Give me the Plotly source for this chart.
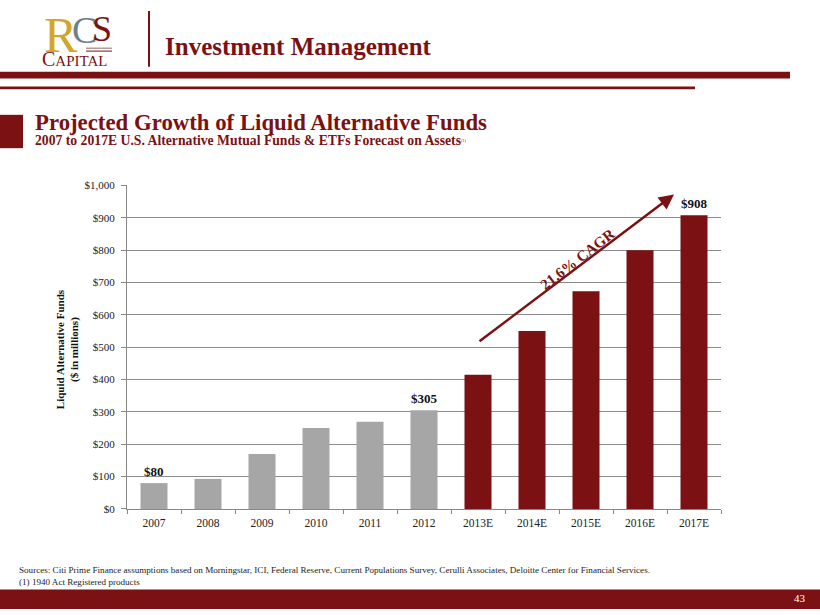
import plotly.graph_objects as go

years = ["2007", "2008", "2009", "2010", "2011", "2012",
         "2013E", "2014E", "2015E", "2016E", "2017E"]
assets = [80, 93, 170, 250, 270, 305, 415, 550, 673, 800, 908]
is_forecast = [False] * 6 + [True] * 5
label_years = ["2007", "2012", "2017E"]
y_ticks = [0, 100, 200, 300, 400, 500, 600, 700, 800, 900, 1000]
y_tick_text = ["$0", "$100", "$200", "$300", "$400", "$500", "$600", "$700", "$800", "$900", "$1,000"]

W, H = 820, 615
RED = "#7B1113"
GRAY = "#A6A6A6"
SERIF = "Liberation Serif, Times New Roman, serif"


def px(x):
    return x / W


def py(y):
    return 1 - y / H


idx = list(range(len(years)))
colors = [RED if f else GRAY for f in is_forecast]

fig = go.Figure()
fig.add_trace(go.Bar(x=idx, y=assets, marker=dict(color=colors, line=dict(width=0)),
                     width=0.5, hovertext=years, hoverinfo="text+y"))

annotations = []
for i, (yr, v) in enumerate(zip(years, assets)):
    if yr in label_years:
        annotations.append(dict(x=i, y=v, xref="x", yref="y", text=f"<b>${v:,}</b>",
                                showarrow=False, yanchor="bottom", yshift=2,
                                font=dict(family=SERIF, size=13, color="#111")))

# CAGR arrow
annotations.append(dict(x=9.63, y=972, ax=6.0, ay=515, xref="x", yref="y", axref="x", ayref="y",
                        text="", showarrow=True, arrowhead=2, arrowsize=1.2, arrowwidth=2.5,
                        arrowcolor=RED))
annotations.append(dict(x=7.85, y=772, xref="x", yref="y", text="<b>21.6% CAGR</b>",
                        showarrow=False, textangle=-37.6,
                        font=dict(family=SERIF, size=15, color=RED)))

# Page texts
annotations += [
    dict(x=px(43), y=py(0), xref="paper", yref="paper", text="R", showarrow=False,
         xanchor="left", yanchor="top", borderpad=0,
         font=dict(family=SERIF, size=50, color="#D4A52E")),
    dict(x=px(70), y=py(24), xref="paper", yref="paper", text="C", showarrow=False,
         xanchor="left", yanchor="middle", font=dict(family=SERIF, size=38, color="#6F7F8C")),
    dict(x=px(90), y=py(23), xref="paper", yref="paper", text="S", showarrow=False,
         xanchor="left", yanchor="middle", font=dict(family=SERIF, size=36, color=RED)),
    dict(x=px(40), y=py(54), xref="paper", yref="paper",
         text="C<span style='font-size:15px'>APITAL</span>", showarrow=False,
         xanchor="left", yanchor="middle", font=dict(family=SERIF, size=20, color=RED)),
    dict(x=px(163), y=py(41), xref="paper", yref="paper", text="<b>Investment Management</b>",
         showarrow=False, xanchor="left", yanchor="middle",
         font=dict(family=SERIF, size=25, color=RED)),
    dict(x=px(33), y=py(119), xref="paper", yref="paper",
         text="<b>Projected Growth of Liquid Alternative Funds</b>", showarrow=False,
         xanchor="left", yanchor="middle", font=dict(family=SERIF, size=22.8, color=RED)),
    dict(x=px(33), y=py(137), xref="paper", yref="paper",
         text="<b>2007 to 2017E U.S. Alternative Mutual Funds &amp; ETFs Forecast on Assets</b>"
              "<span style='font-size:6px'><sup>(1)</sup></span>",
         showarrow=False, xanchor="left", yanchor="middle",
         font=dict(family=SERIF, size=13.7, color=RED)),
    dict(x=px(67), y=py(350), xref="paper", yref="paper",
         text="<b>Liquid Alternative Funds<br>(&#36; in millions)</b>", showarrow=False,
         textangle=-90, xanchor="center", yanchor="middle",
         font=dict(family=SERIF, size=11, color="#111")),
    dict(x=px(17), y=py(575), xref="paper", yref="paper",
         text="Sources: Citi Prime Finance assumptions based on Morningstar, ICI, Federal Reserve, "
              "Current Populations Survey, Cerulli Associates, Deloitte Center for Financial Services.",
         showarrow=False, xanchor="left", yanchor="middle",
         font=dict(family=SERIF, size=9.1, color="#222")),
    dict(x=px(17), y=py(587), xref="paper", yref="paper", text="(1) 1940 Act Registered products",
         showarrow=False, xanchor="left", yanchor="middle",
         font=dict(family=SERIF, size=9.1, color="#222")),
    dict(x=px(808), y=py(604), xref="paper", yref="paper", text="43", showarrow=False,
         xanchor="right", yanchor="middle", font=dict(family=SERIF, size=11, color="#fff")),
]

shapes = [
    dict(type="line", xref="paper", yref="paper", x0=px(149), x1=px(149), y0=py(5), y1=py(62),
         line=dict(color=RED, width=2)),
    dict(type="line", xref="paper", yref="paper", x0=px(86), x1=px(112), y0=py(43), y1=py(43),
         line=dict(color="#8a6a6a", width=1)),
    dict(type="line", xref="paper", yref="paper", x0=px(86), x1=px(112), y0=py(46), y1=py(46),
         line=dict(color=RED, width=1)),
    dict(type="rect", xref="paper", yref="paper", x0=0, x1=px(790), y0=py(74), y1=py(67),
         fillcolor=RED, line=dict(width=0)),
    dict(type="rect", xref="paper", yref="paper", x0=0, x1=px(695), y0=py(85), y1=py(82),
         fillcolor=RED, line=dict(width=0)),
    dict(type="rect", xref="paper", yref="paper", x0=0, x1=px(23), y0=py(145), y1=py(111),
         fillcolor=RED, line=dict(width=0)),
    dict(type="rect", xref="paper", yref="paper", x0=0, x1=1, y0=0, y1=py(595),
         fillcolor=RED, line=dict(width=0)),
]

fig.update_layout(
    width=W, height=H, margin=dict(l=0, r=0, t=0, b=0),
    paper_bgcolor="white", plot_bgcolor="white", showlegend=False,
    xaxis=dict(domain=[px(127), px(721)], range=[-0.5, len(years) - 0.5],
               tickmode="array", tickvals=idx, ticktext=years, ticks="",
               tickfont=dict(family=SERIF, size=11.5, color="#222"), ticklabelstandoff=3,
               minor=dict(tickmode="array", tickvals=[i - 0.5 for i in range(len(years) + 1)],
                          ticks="outside", ticklen=4, tickcolor="#888", showgrid=False),
               showline=True, linecolor="#888", linewidth=1,
               showgrid=False, zeroline=False, fixedrange=True),
    yaxis=dict(domain=[py(513), py(183)], range=[0, 1000], tickmode="array",
               tickvals=y_ticks, ticktext=y_tick_text,
               tickfont=dict(family=SERIF, size=11, color="#222"), ticklabelstandoff=4,
               showline=True, linecolor="#888", linewidth=1, ticks="outside", ticklen=5,
               tickcolor="#888", showgrid=True, gridcolor="#8c8c8c", gridwidth=1,
               zeroline=False, fixedrange=True),
    annotations=annotations, shapes=shapes,
)

fig.write_html("out.html")
